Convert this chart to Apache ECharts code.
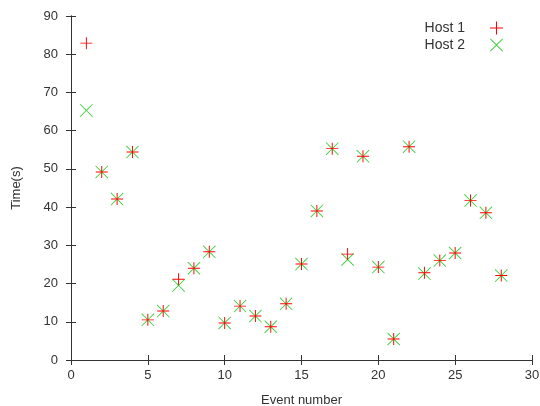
<!DOCTYPE html>
<html>
<head>
  <meta charset="UTF-8">
  <title>Event times</title>
  <script src="https://cdn.jsdelivr.net/npm/echarts/dist/echarts.min.js"></script>
  <style>
    html, body { margin: 0; padding: 0; background: #fff; }
    #chart { width: 540px; height: 406px; }
  </style>
</head>
<body>
  <div id="chart"></div>
  <script>
    // event numbers
    const events = [1, 2, 3, 4, 5, 6, 7, 8, 9, 10, 11, 12, 13, 14,
                    15, 16, 17, 18, 19, 20, 21, 22, 23, 24, 25, 26, 27, 28];
    // times in seconds
    const host1 = [82.9, 49.2, 42.1, 54.4, 10.5, 12.8, 21.1, 24.0, 28.3, 9.7, 14.1, 11.5, 8.7, 14.7,
                   25.1, 39.0, 55.3, 27.7, 53.3, 24.3, 5.5, 55.8, 22.8, 26.0, 28.0, 41.7, 38.5, 22.1];
    const host2 = [65.3, 49.2, 42.1, 54.4, 10.5, 12.8, 19.5, 24.0, 28.3, 9.7, 14.1, 11.5, 8.7, 14.7,
                   25.1, 39.0, 55.3, 26.3, 53.3, 24.3, 5.5, 55.8, 22.6, 26.0, 28.0, 41.7, 38.5, 22.1];
    const xTicks = [0, 5, 10, 15, 20, 25, 30];
    const yTicks = [0, 10, 20, 30, 40, 50, 60, 70, 80, 90];

    const plusPath = 'path://M46,0L54,0L54,46L100,46L100,54L54,54L54,100L46,100L46,54L0,54L0,46L46,46Z';
    const crossPath = 'path://M0,5L5,0L50,45L95,0L100,5L55,50L100,95L95,100L50,55L5,100L0,95L45,50Z';

    const lineColor = '#333';
    const textColor = '#333';
    const font = 'Liberation Sans, Arial, sans-serif';

    function pairs(ys) {
      return events.map((x, i) => [x, ys[i]]);
    }

    const chart = echarts.init(document.getElementById('chart'));
    const axisCommon = {
      type: 'value',
      axisLine: { show: true, lineStyle: { color: lineColor, width: 1 } },
      axisTick: { show: true, inside: true, length: 5, lineStyle: { color: lineColor } },
      splitLine: { show: false }
    };

    chart.setOption({
      animation: false,
      grid: { left: 71, right: 8, top: 16, bottom: 46, outerBoundsMode: 'none' },
      legend: {
        orient: 'vertical',
        right: 32,
        top: 16,
        align: 'right',
        itemWidth: 13,
        itemHeight: 13,
        itemGap: 3,
        textStyle: { color: textColor, fontSize: 14, fontFamily: font, padding: [0, 20, 0, 0] },
        data: ['Host 1', 'Host 2']
      },
      xAxis: [
        Object.assign({}, axisCommon, {
          min: xTicks[0], max: xTicks[xTicks.length - 1], interval: 5,
          name: 'Event number', nameLocation: 'middle', nameGap: 34,
          nameTextStyle: { color: textColor, fontSize: 13, fontFamily: font },
          axisLabel: { color: textColor, fontSize: 13, fontFamily: font, margin: 9 }
        }),
        Object.assign({}, axisCommon, {
          position: 'top',
          min: xTicks[0], max: xTicks[xTicks.length - 1], interval: 5,
          axisLabel: { show: false }
        })
      ],
      yAxis: [
        Object.assign({}, axisCommon, {
          min: yTicks[0], max: yTicks[yTicks.length - 1], interval: 10,
          name: 'Time(s)', nameLocation: 'middle', nameGap: 48,
          nameTextStyle: { color: textColor, fontSize: 13, fontFamily: font },
          axisLabel: { color: textColor, fontSize: 13, fontFamily: font, margin: 13 }
        }),
        Object.assign({}, axisCommon, {
          position: 'right',
          min: yTicks[0], max: yTicks[yTicks.length - 1], interval: 10,
          axisLabel: { show: false }
        })
      ],
      series: [
        {
          name: 'Host 1',
          type: 'scatter',
          symbol: plusPath,
          symbolSize: 12,
          itemStyle: { color: '#ff0000', opacity: 1 },
          z: 3,
          data: pairs(host1)
        },
        {
          name: 'Host 2',
          type: 'scatter',
          symbol: crossPath,
          symbolSize: 13,
          itemStyle: { color: '#00c000', opacity: 0.75 },
          z: 2,
          data: pairs(host2)
        }
      ]
    });
  </script>
</body>
</html>
